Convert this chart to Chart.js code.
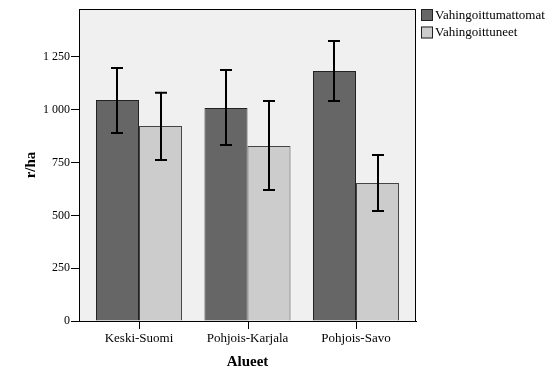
<!DOCTYPE html>
<html>
<head>
<meta charset="utf-8">
<script src="https://cdn.jsdelivr.net/npm/chart.js@4"></script>
<style>
  body { margin: 0; background: #fff; }
  #wrap { width: 555px; height: 386px; }
</style>
</head>
<body>
<div id="wrap"><canvas id="barChart"></canvas></div>
<script>
// data
var categories = ["Keski-Suomi", "Pohjois-Karjala", "Pohjois-Savo"];
var seriesNames = ["Vahingoittumattomat", "Vahingoittuneet"];
var undamaged = [1046, 1008, 1184];
var undamagedLow = [890, 833, 1042];
var undamagedHigh = [1198, 1188, 1326];
var damaged = [923, 829, 653];
var damagedLow = [762, 620, 521];
var damagedHigh = [1080, 1042, 786];
var yTicks = [0, 250, 500, 750, 1000, 1250];

var serif = "'Liberation Serif', 'Times New Roman', serif";
var colors = ['#666666', '#cccccc'];

function points(vals) {
  return vals.map(function (v, i) { return { x: i + 1, y: v }; });
}

var errors = [
  { low: undamagedLow, high: undamagedHigh },
  { low: damagedLow, high: damagedHigh }
];

// grey plot background + frame + category tick marks
var frame = {
  id: 'frame',
  beforeDraw: function (chart) {
    var a = chart.chartArea, c = chart.ctx;
    c.save();
    c.fillStyle = '#f0f0f0';
    c.fillRect(a.left, a.top, a.right - a.left, a.bottom - a.top);
    c.restore();
  },
  afterDraw: function (chart) {
    var a = chart.chartArea, c = chart.ctx, xs = chart.scales.x;
    c.save();
    c.strokeStyle = '#000';
    c.lineWidth = 1;
    c.strokeRect(a.left + 0.5, a.top + 0.5, a.right - a.left - 1, a.bottom - a.top);
    c.beginPath();
    categories.forEach(function (cat, i) {
      var x = Math.round(xs.getPixelForValue(i + 1)) + 0.5;
      c.moveTo(x, a.bottom);
      c.lineTo(x, a.bottom + 8);
    });
    c.stroke();
    c.restore();
  }
};

// error bars
var errorBars = {
  id: 'errorBars',
  afterDatasetsDraw: function (chart) {
    var c = chart.ctx, ys = chart.scales.y;
    c.save();
    c.strokeStyle = '#000';
    c.lineWidth = 2;
    chart.data.datasets.forEach(function (ds, di) {
      var meta = chart.getDatasetMeta(di);
      meta.data.forEach(function (bar, i) {
        var x = Math.round(bar.x);
        var yl = ys.getPixelForValue(errors[di].low[i]);
        var yh = ys.getPixelForValue(errors[di].high[i]);
        c.beginPath();
        c.moveTo(x, yl); c.lineTo(x, yh);
        c.moveTo(x - 6, yl); c.lineTo(x + 6, yl);
        c.moveTo(x - 6, yh); c.lineTo(x + 6, yh);
        c.stroke();
      });
    });
    c.restore();
  }
};

// legend at top right
var sideLegend = {
  id: 'sideLegend',
  afterDraw: function (chart) {
    var c = chart.ctx;
    c.save();
    c.font = '13px ' + serif;
    c.textBaseline = 'middle';
    seriesNames.forEach(function (name, i) {
      var y = 9 + i * 17.5;
      c.fillStyle = colors[i];
      c.fillRect(421, y, 12, 12);
      c.strokeStyle = '#222';
      c.lineWidth = 1;
      c.strokeRect(421.5, y + 0.5, 11, 11);
      c.fillStyle = '#000';
      c.fillText(name, 435, y + 6.5);
    });
    c.restore();
  }
};

var ctxB = document.getElementById("barChart").getContext('2d');
var myBarChart = new Chart(ctxB, {
  type: 'bar',
  data: {
    datasets: [{
        label: seriesNames[0],
        data: points(undamaged),
        backgroundColor: colors[0],
        borderColor: '#222',
        borderWidth: 1
      },
      {
        label: seriesNames[1],
        data: points(damaged),
        backgroundColor: colors[1],
        borderColor: '#444',
        borderWidth: 1
      }
    ]
  },
  options: {
    responsive: true,
    maintainAspectRatio: false,
    animation: false,
    barPercentage: 1,
    categoryPercentage: 0.793,
    layout: { padding: { left: 0, top: 9, right: 139, bottom: 0 } },
    plugins: {
      legend: { display: false },
      tooltip: { enabled: false }
    },
    scales: {
      x: {
        type: 'linear',
        offset: false,
        min: 0.447,
        max: 3.553,
        afterBuildTicks: function (scale) {
          scale.ticks = categories.map(function (c, i) { return { value: i + 1 }; });
        },
        afterFit: function (scale) { scale.height = 65; },
        grid: { display: false },
        border: { display: true, color: '#000', width: 1 },
        ticks: {
          color: '#000',
          padding: 2,
          maxRotation: 0,
          autoSkip: false,
          font: { family: serif, size: 13 },
          callback: function (v) { return categories[v - 1]; }
        },
        title: {
          display: true,
          text: 'Alueet',
          color: '#000',
          font: { family: serif, size: 15, weight: 'bold' },
          padding: { top: 15, bottom: 15 }
        }
      },
      y: {
        min: 0,
        max: 1477,
        afterBuildTicks: function (scale) {
          scale.ticks = yTicks.map(function (v) { return { value: v }; });
        },
        afterFit: function (scale) { scale.width = 79; },
        grid: { display: true, drawOnChartArea: false, drawTicks: true, tickLength: 8, color: '#000' },
        border: { color: '#000', width: 1 },
        ticks: {
          color: '#000',
          padding: 1,
          font: { family: serif, size: 12 },
          callback: function (v) { return String(v).replace(/\B(?=(\d{3})+$)/g, ' '); }
        },
        title: {
          display: true,
          text: 'r/ha',
          color: '#000',
          font: { family: serif, size: 15, weight: 'bold' },
          padding: { top: 22, bottom: 22 }
        }
      }
    }
  },
  plugins: [frame, errorBars, sideLegend]
});
</script>
</body>
</html>
